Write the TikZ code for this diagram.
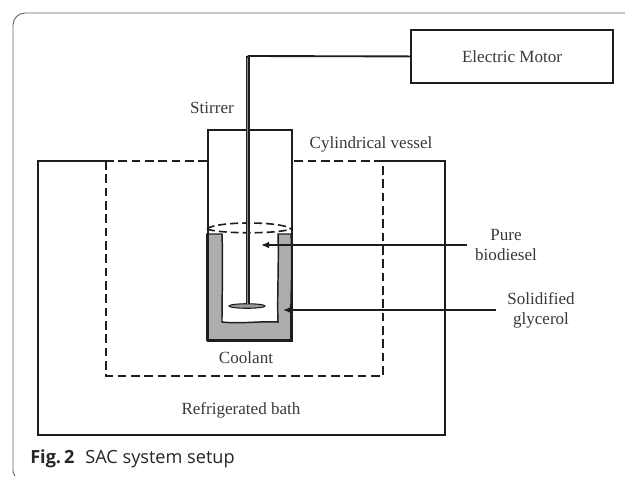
\documentclass[tikz,border=0pt]{standalone}
\usepackage{fontspec}
\usetikzlibrary{arrows.meta,shapes.geometric}
\setmainfont{Liberation Serif}
\newfontfamily\capfont{Open Sans}
\definecolor{lab}{HTML}{3A3A3A}
\definecolor{ln}{HTML}{1E1E1E}
\tikzset{
  solidbox/.style={draw=ln,line width=1.3pt,inner sep=0},
  lbl/.style={text=lab,font=\fontsize{12.8}{15.2}\selectfont,inner sep=0,align=center},
  dashline/.style={draw=ln,line width=1.4pt,dash pattern=on 6.5pt off 3.5pt},
  wire/.style={draw=ln,line width=1.4pt},
  pointer/.style={draw=ln,line width=1.2pt,-{Latex[length=6pt,width=5pt]}},
  glyc/.style={draw=ln,line width=1.1pt,fill=black!32}
}
\begin{document}
\begin{tikzpicture}[x=0.75pt,y=-0.75pt]
\useasboundingbox (0,0) rectangle (625,476);
\fill[white] (0,0) rectangle (625,476);
% card frame
\draw[draw=black!60,line width=0.7pt] (15,476) .. controls (13,474) and (13,472) .. (13,468) -- (13,25) arc[start angle=180,end angle=90,radius=9pt] -- (625,13);
% bath and dashed coolant region
\draw[solidbox] (106,161) -- (38,161) -- (38,435) -- (445,435) -- (445,161) -- (383,161);
\draw[dashline] (106,161) -- (106,376) -- (383,376) -- (383,161) (383,161) -- (291,161) (207,161) -- (106,161);
% solidified glycerol
\draw[glyc] (207,234) -- (222,234) .. controls (223,260) and (222,300) .. (222,322)
  .. controls (240,324) and (260,321) .. (278,322)
  .. controls (277,300) and (279,260) .. (278,234) -- (291,234)
  .. controls (293,270) and (290,300) .. (291,340) -- (207,340) .. controls (209,300) and (206,270) .. (207,234) -- cycle;
\draw[draw=ln,line width=1.9pt] (207,234) -- (207,340) -- (291,340);
% vessel
\node[solidbox,line width=1.2pt,minimum width=63pt,minimum height=158.25pt,anchor=north west] (vessel) at (207,129) {};
% liquid surface
\draw[draw=ln,line width=1.2pt,dash pattern=on 6pt off 3pt] (207,229) .. controls (215,221) and (283,221) .. (291,229);
\draw[draw=ln,line width=1.2pt,dash pattern=on 6pt off 3pt] (207,229) .. controls (220,234) and (278,234) .. (291,229);
% motor
\node[solidbox,line width=1.4pt,minimum width=151.5pt,minimum height=39.75pt,anchor=north west] (motor) at (410,29) {};
\node[lbl] (motorlabel) at (512,57) {Electric Motor};
% stirrer
\coordinate (corner) at (247.5,56);
\node[draw=ln,line width=0.8pt,fill=black!40,ellipse,minimum width=27pt,minimum height=3.4pt,inner sep=0] (paddle) at (247,306) {};
\draw[wire] (motor.west) -- (corner);
\draw[draw=ln,line width=3pt] (corner) -- (paddle.north -| corner);
\draw[draw=black!45,line width=1.2pt] (247.5,58) -- (247.5,304);
% labels
\node[lbl] (stirrer) at (212,108) {Stirrer};
\node[lbl] (cyl) at (371,144) {Cylindrical vessel};
\node[lbl] (pure) at (506,245) {Pure\\biodiesel};
\node[lbl] (sol) at (541,310) {Solidified\\glycerol};
\node[lbl] (coolant) at (246,358) {Coolant};
\node[lbl] (bath) at (241,410) {Refrigerated bath};
% pointers
\coordinate (puretip) at (261,245);
\coordinate (soltip) at (283,310);
\coordinate (pureend) at (467,245);
\coordinate (solend) at (496,310);
\draw[pointer] (pureend) -- (puretip);
\draw[pointer] (solend) -- (soltip);
% caption
\node[anchor=base west,inner sep=0,text=black!85,font=\capfont\fontsize{13.6}{15}\selectfont] (caption) at (30,463) {\textbf{Fig.\,2}\hspace{0.6em}SAC system setup};
\end{tikzpicture}
\end{document}
